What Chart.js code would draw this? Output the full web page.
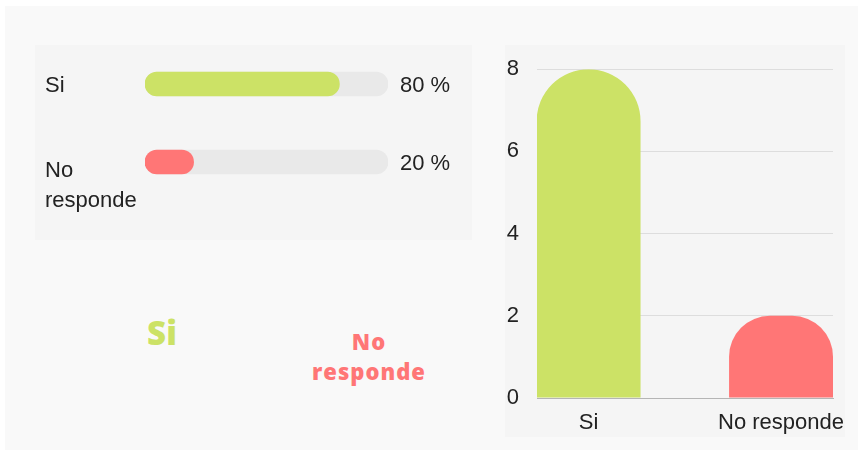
<!DOCTYPE html>
<html>
<head>
<meta charset="utf-8">
<script src="https://cdn.jsdelivr.net/npm/chart.js@4.4.0/dist/chart.umd.min.js"></script>
<style>
  body { margin: 0; background: #ffffff; font-family: "Liberation Sans", Arial, sans-serif; }
  #outer { position: absolute; left: 5px; top: 6px; width: 853px; height: 444px; background: #f9f9f9; }
  .panel { position: absolute; background: #f5f5f5; }
  #leftPanel { left: 30px; top: 39px; width: 437px; height: 195px; }
  #rightPanel { left: 500px; top: 39px; width: 340px; height: 392px; }
  #countChart { position: absolute; left: 0; top: -7px; }
  .big { position: absolute; font-family: "Open Sans", "Inter", sans-serif; font-weight: 800; text-align: center; transform: translate(-50%, -50%); white-space: nowrap; }
</style>
</head>
<body>
<div id="outer">
  <div id="leftPanel" class="panel"><canvas id="progressChart" width="437" height="195"></canvas></div>
  <div id="rightPanel" class="panel"><canvas id="countChart" width="340" height="399"></canvas></div>
  <div id="bigSi" class="big" style="left:157px; top:326px; font-size:33px; color:#cce266;"></div>
  <div id="bigNo" class="big" style="left:364px; top:350px; font-size:22px; line-height:30px; letter-spacing:1px; color:#ff7676;"></div>
</div>
<script>
// data
var categories = ["Si", "No responde"];
var rowLabelLines = [["Si"], ["No", "responde"]];
var counts = [8, 2];
var percents = [80, 20];
var trackValues = [100, 100];
var barColors = ["#cce266", "#ff7676"];
var yTickStep = 2;
var yMax = 8;

var labelFont = "22px 'Liberation Sans', Arial, sans-serif";
var textColor = "#222222";

document.getElementById("bigSi").textContent = categories[0];
document.getElementById("bigNo").innerHTML = rowLabelLines[1].join("<br>");

var rowLabelsPlugin = {
  id: "rowLabels",
  afterDatasetsDraw: function(chart) {
    var ctx = chart.ctx;
    var yScale = chart.scales.y;
    ctx.save();
    ctx.font = labelFont;
    ctx.fillStyle = textColor;
    ctx.textBaseline = "alphabetic";
    ctx.textAlign = "left";
    for (var i = 0; i < categories.length; i++) {
      var cy = yScale.getPixelForValue(i);
      var lines = rowLabelLines[i];
      var first = lines.length > 1 ? 15 : 8;
      for (var j = 0; j < lines.length; j++) {
        ctx.fillText(lines[j], 10, cy + first + j * 30);
      }
      ctx.fillText(percents[i] + " %", chart.chartArea.right + 12, cy + 8);
    }
    ctx.restore();
  }
};

new Chart(document.getElementById("progressChart"), {
  type: "bar",
  data: {
    labels: categories,
    datasets: [{
      data: percents,
      backgroundColor: barColors,
      borderRadius: 12,
      borderSkipped: false,
      barThickness: 24,
      grouped: false,
      order: 0
    }, {
      data: trackValues,
      backgroundColor: "#e9e9e9",
      borderRadius: 12,
      borderSkipped: false,
      barThickness: 24,
      grouped: false,
      order: 1
    }]
  },
  options: {
    indexAxis: "y",
    responsive: false,
    animation: false,
    layout: { padding: { left: 110, right: 84, top: 0, bottom: 39 } },
    plugins: { legend: { display: false }, tooltip: { enabled: false } },
    scales: {
      x: { display: false, min: 0, max: 100 },
      y: { display: false }
    }
  },
  plugins: [rowLabelsPlugin]
});

// columns sit on a linear x axis so the bars can touch the plot edges
var columnPoints = counts.map(function(c, i) { return { x: i, y: c }; });

new Chart(document.getElementById("countChart"), {
  type: "bar",
  data: {
    datasets: [{
      data: columnPoints,
      backgroundColor: barColors,
      borderRadius: { topLeft: 52, topRight: 52 },
      borderSkipped: "bottom",
      categoryPercentage: 1,
      barPercentage: 0.54
    }]
  },
  options: {
    responsive: false,
    animation: false,
    layout: { padding: { left: 0, right: 12, top: 17, bottom: 0 } },
    plugins: { legend: { display: false }, tooltip: { enabled: false } },
    scales: {
      x: {
        type: "linear",
        offset: false,
        min: -0.268,
        max: 1.27,
        grid: { display: false, drawTicks: false },
        border: { display: true, color: "#b5b5b5", width: 1 },
        ticks: {
          color: textColor,
          font: { family: "'Liberation Sans', Arial, sans-serif", size: 22 },
          padding: 12,
          maxRotation: 0,
          autoSkip: false,
          callback: function(v) { return categories[v]; }
        },
        afterBuildTicks: function(scale) {
          scale.ticks = categories.map(function(c, i) { return { value: i }; });
        },
        afterFit: function(scale) {
          scale.height = 39;
          scale.paddingLeft = 0;
          scale.paddingRight = 0;
        }
      },
      y: {
        min: 0,
        max: yMax,
        grid: { color: "#dddddd", drawTicks: false },
        border: { display: false },
        ticks: { stepSize: yTickStep, color: textColor, font: { family: "'Liberation Sans', Arial, sans-serif", size: 22 }, padding: 18 },
        afterFit: function(scale) { scale.width = 32; }
      }
    }
  }
});
</script>
</body>
</html>
